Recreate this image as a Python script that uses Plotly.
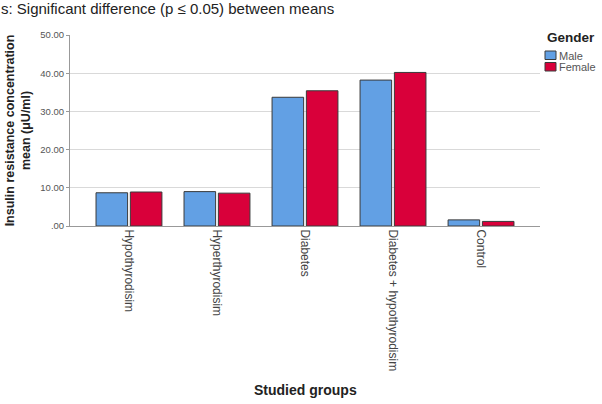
import plotly.graph_objects as go

groups = ["Hypothyrodisim", "Hyperthyrodisim", "Diabetes", "Diabetes + hypothyrodisim", "Control"]
male = [8.7, 9.0, 33.7, 38.2, 1.6]
female = [8.9, 8.6, 35.4, 40.2, 1.2]
y_ticks = [0, 10, 20, 30, 40, 50]
y_tick_text = [".00", "10.00", "20.00", "30.00", "40.00", "50.00"]
series_names = ["Male", "Female"]
series_colors = ["#62a0e4", "#d9003a"]

FONT = "Liberation Sans, Arial, sans-serif"
EDGE = "#3a3a3a"

fig = go.Figure()
for name, vals, col in zip(series_names, [male, female], series_colors):
    fig.add_trace(go.Bar(x=groups, y=vals, name=name, showlegend=False,
                         marker=dict(color=col, line=dict(color=EDGE, width=1))))

fig.update_layout(
    width=602, height=404,
    margin=dict(l=70, r=62, t=35, b=178, autoexpand=False),
    paper_bgcolor="white", plot_bgcolor="white",
    barmode="group", bargap=0.22, bargroupgap=0.08,
    font=dict(family=FONT, color="#333"),
    xaxis=dict(
        type="category",
        range=[-0.67, 4.67],
        tickangle=90,
        tickfont=dict(size=12, color="#444"),
        showline=True, linecolor="#999", linewidth=1,
        ticks="", showgrid=False,
        automargin=False,
    ),
    yaxis=dict(
        range=[0, 50],
        tickvals=y_ticks, ticktext=y_tick_text,
        tickfont=dict(size=9.5, color="#555"),
        showline=True, linecolor="#999", linewidth=1,
        showgrid=True, gridcolor="#d9d9d9", gridwidth=1,
        zeroline=False,
        ticks="outside", ticklen=3, tickcolor="#999",
        title=dict(text="<b>Insulin resistance concentration<br>mean (μU/ml)</b>",
                   font=dict(size=12.5, color="#222"), standoff=6),
        automargin=False,
    ),
)

# helpers: pixel -> paper coords
def px(x):
    return (x - 70) / 470

def py(y):
    return (226 - y) / 191

fig.add_annotation(
    text="s: Significant difference (p ≤ 0.05) between means",
    xref="paper", yref="paper", x=px(-1), y=py(9),
    xanchor="left", yanchor="middle", showarrow=False,
    font=dict(size=15, color="#222", family=FONT),
)
fig.add_annotation(
    text="<b>Studied groups</b>",
    xref="paper", yref="paper", x=px(305), y=py(390),
    xanchor="center", yanchor="middle", showarrow=False,
    font=dict(size=14, color="#222", family=FONT),
)

# manual legend
fig.add_annotation(
    text="<b>Gender</b>", xref="paper", yref="paper", x=px(545), y=py(37),
    xanchor="left", yanchor="middle", showarrow=False,
    font=dict(size=13.5, color="#222", family=FONT),
)
for i, (name, col) in enumerate(zip(series_names, series_colors)):
    top = 51 + i * 11.5
    fig.add_shape(type="rect", xref="paper", yref="paper",
                  x0=px(545), x1=px(556), y0=py(top), y1=py(top + 8.5),
                  fillcolor=col, line=dict(color=EDGE, width=1))
    fig.add_annotation(
        text=name, xref="paper", yref="paper", x=px(557), y=py(top + 4.5),
        xanchor="left", yanchor="middle", showarrow=False,
        font=dict(size=11, color="#555", family=FONT),
    )

fig.write_html("out.html")
